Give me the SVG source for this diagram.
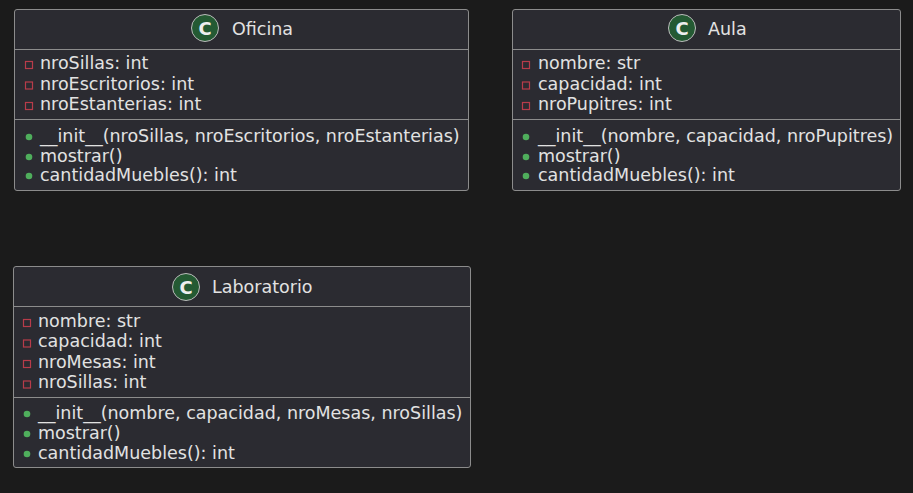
<svg xmlns="http://www.w3.org/2000/svg" width="913" height="493" viewBox="0 0 913 493">
<style>
.bg{fill:#1b1b1b}
.box{fill:#2b2b31;stroke:#8c8c8c;stroke-width:1}
.sep{stroke:#8c8c8c;stroke-width:1}
.t{font-family:"DejaVu Sans",sans-serif;font-size:17.5px;fill:#e2e2e2}
.title{font-family:"DejaVu Sans",sans-serif;font-size:17.5px;fill:#e2e2e2}
.ci{fill:#245a33;stroke:#bbbbbb;stroke-width:1}
.cl{font-family:"DejaVu Sans",sans-serif;font-size:18px;font-weight:bold;fill:#eeeeee}
.priv{fill:none;stroke:#b83c4a;stroke-width:1.2}
.pub{fill:#4fae5c}
</style>
<rect class="bg" x="0" y="0" width="913" height="493"/>
<g id="Oficina">
<rect class="box" x="14.5" y="9.5" width="454" height="181" rx="2.5"/>
<line class="sep" x1="14.5" y1="49.5" x2="468.5" y2="49.5"/>
<line class="sep" x1="14.5" y1="119.5" x2="468.5" y2="119.5"/>
<circle class="ci" cx="205" cy="28" r="13.5"/>
<text class="cl" x="205" y="34.5" text-anchor="middle">C</text>
<text class="title" x="232" y="35">Oficina</text>
<rect class="priv" x="25.5" y="61.5" width="7" height="7"/>
<text class="t" x="40" y="69">nroSillas: int</text>
<rect class="priv" x="25.5" y="82" width="7" height="7"/>
<text class="t" x="40" y="90">nroEscritorios: int</text>
<rect class="priv" x="25.5" y="102.5" width="7" height="7"/>
<text class="t" x="40" y="110">nroEstanterias: int</text>
<circle class="pub" cx="29" cy="137" r="3.3"/>
<text class="t" x="40" y="142">__init__(nroSillas, nroEscritorios, nroEstanterias)</text>
<circle class="pub" cx="29" cy="157" r="3.3"/>
<text class="t" x="40" y="162">mostrar()</text>
<circle class="pub" cx="29" cy="176" r="3.3"/>
<text class="t" x="40" y="181">cantidadMuebles(): int</text>
</g>
<g id="Aula">
<rect class="box" x="512.5" y="9.5" width="388" height="181" rx="2.5"/>
<line class="sep" x1="512.5" y1="49.5" x2="900.5" y2="49.5"/>
<line class="sep" x1="512.5" y1="119.5" x2="900.5" y2="119.5"/>
<circle class="ci" cx="682" cy="28" r="13.5"/>
<text class="cl" x="682" y="34.5" text-anchor="middle">C</text>
<text class="title" x="708" y="35">Aula</text>
<rect class="priv" x="522.5" y="61.5" width="7" height="7"/>
<text class="t" x="538" y="69">nombre: str</text>
<rect class="priv" x="522.5" y="82" width="7" height="7"/>
<text class="t" x="538" y="90">capacidad: int</text>
<rect class="priv" x="522.5" y="102.5" width="7" height="7"/>
<text class="t" x="538" y="110">nroPupitres: int</text>
<circle class="pub" cx="526" cy="137" r="3.3"/>
<text class="t" x="538" y="142">__init__(nombre, capacidad, nroPupitres)</text>
<circle class="pub" cx="526" cy="157" r="3.3"/>
<text class="t" x="538" y="162">mostrar()</text>
<circle class="pub" cx="526" cy="176" r="3.3"/>
<text class="t" x="538" y="181">cantidadMuebles(): int</text>
</g>
<g id="Laboratorio">
<rect class="box" x="13.5" y="266.5" width="457" height="201" rx="2.5"/>
<line class="sep" x1="13.5" y1="306.5" x2="470.5" y2="306.5"/>
<line class="sep" x1="13.5" y1="397.5" x2="470.5" y2="397.5"/>
<circle class="ci" cx="186" cy="287" r="13.5"/>
<text class="cl" x="186" y="293.5" text-anchor="middle">C</text>
<text class="title" x="212" y="293">Laboratorio</text>
<rect class="priv" x="23.5" y="319.5" width="7" height="7"/>
<text class="t" x="38" y="327">nombre: str</text>
<rect class="priv" x="23.5" y="340" width="7" height="7"/>
<text class="t" x="38" y="347">capacidad: int</text>
<rect class="priv" x="23.5" y="360.5" width="7" height="7"/>
<text class="t" x="38" y="368">nroMesas: int</text>
<rect class="priv" x="23.5" y="381" width="7" height="7"/>
<text class="t" x="38" y="388">nroSillas: int</text>
<circle class="pub" cx="27" cy="414" r="3.3"/>
<text class="t" x="38" y="419">__init__(nombre, capacidad, nroMesas, nroSillas)</text>
<circle class="pub" cx="27" cy="434" r="3.3"/>
<text class="t" x="38" y="439">mostrar()</text>
<circle class="pub" cx="27" cy="454" r="3.3"/>
<text class="t" x="38" y="459">cantidadMuebles(): int</text>
</g>
<g id="connectors"></g>
</svg>
